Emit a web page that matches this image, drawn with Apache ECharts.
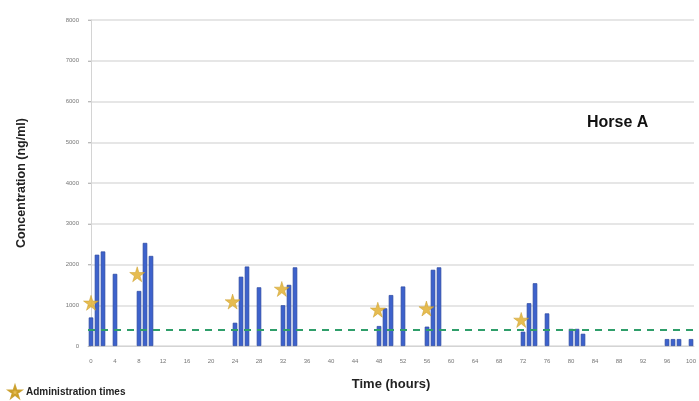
<!DOCTYPE html>
<html>
<head>
<meta charset="utf-8">
<script src="https://cdn.jsdelivr.net/npm/echarts@6/dist/echarts.min.js"></script>
<style>
  html, body { margin: 0; padding: 0; background: #fff; }
  #chart { width: 699px; height: 401px; }
</style>
</head>
<body>
<div id="chart"></div>
<script>
// sampling times (hours) and measured concentration (ng/ml)
var sampleHours = [0, 1, 2, 4, 8, 9, 10, 24, 25, 26, 28, 32, 33, 34, 48, 49, 50, 52, 56, 57, 58, 72, 73, 74, 76, 80, 81, 82, 96, 97, 98, 100];
var concValues = [700, 2240, 2320, 1770, 1350, 2530, 2210, 570, 1700, 1950, 1440, 1000, 1500, 1930, 490, 925, 1250, 1460, 475, 1870, 1930, 350, 1050, 1540, 800, 420, 420, 300, 170, 170, 170, 170];

// administration markers (stars)
var adminHours = [0, 7.7, 23.6, 31.8, 47.8, 55.9, 71.7];
var adminLevels = [1060, 1760, 1090, 1400, 890, 920, 640];

var thresholdValue = 400;
var hourCount = 101; // categories 0..100

var hourLabels = [];
for (var h = 0; h < hourCount; h++) hourLabels.push(String(h));

var barData = hourLabels.map(function () { return null; });
sampleHours.forEach(function (t, i) { barData[t] = concValues[i]; });

var starData = adminHours.map(function (t, i) { return [t, adminLevels[i]]; });

var starPath = 'path://M50,0 L61,35 L98,35 L68,57 L79,92 L50,70 L21,92 L32,57 L2,35 L39,35 Z';
var font = '"Liberation Sans", Arial, sans-serif';
var chart = echarts.init(document.getElementById('chart'));

chart.setOption({
  animation: false,
  legend: {
    data: [{ name: 'Administration times', icon: starPath }],
    left: 8,
    top: 385,
    padding: 0,
    itemWidth: 12,
    itemHeight: 12,
    itemGap: 4,
    textStyle: { fontSize: 10, fontWeight: 'bold', color: '#222', fontFamily: font }
  },
  grid: { left: 88, right: 1, top: 20, bottom: 55 },
  xAxis: [{
    type: 'category',
    data: hourLabels,
    boundaryGap: true,
    name: 'Time (hours)',
    nameLocation: 'middle',
    nameGap: 32,
    nameTextStyle: { fontSize: 13, fontWeight: 'bold', color: '#222', fontFamily: font },
    axisLine: { show: true, lineStyle: { color: '#d4d4d4' } },
    axisTick: { show: false },
    axisLabel: { interval: 3, color: '#777', fontSize: 6, fontFamily: font, margin: 12 },
    splitLine: { show: false }
  }, {
    type: 'value',
    min: -0.5,
    max: 100.5,
    show: false
  }],
  yAxis: {
    type: 'value',
    min: 0,
    max: 8000,
    interval: 1000,
    name: 'Concentration (ng/ml)',
    nameLocation: 'middle',
    nameGap: 60,
    nameRotate: 90,
    nameTextStyle: { fontSize: 12.5, fontWeight: 'bold', color: '#222', fontFamily: font },
    axisLine: { show: true, lineStyle: { color: '#d4d4d4' } },
    axisTick: { show: true, length: 3, lineStyle: { color: '#bbb' } },
    axisLabel: { color: '#777', fontSize: 6, fontFamily: font, margin: 9, formatter: function (v) { return String(v); } },
    splitLine: { lineStyle: { color: '#dedede', width: 1.5 } }
  },
  series: [{
    name: 'Concentration',
    type: 'bar',
    data: barData,
    barWidth: 4.5,
    itemStyle: { color: '#3d62cc', borderColor: '#2a469e', borderWidth: 0.7 },
    markLine: {
      silent: true,
      symbol: 'none',
      label: { show: false },
      lineStyle: { color: '#2f9e6a', type: [7, 6], width: 2.2 },
      data: [{ yAxis: thresholdValue }]
    }
  }, {
    name: 'Administration times',
    type: 'scatter',
    xAxisIndex: 1,
    data: starData,
    symbol: starPath,
    symbolSize: 15,
    itemStyle: { color: '#e3b53e', borderColor: '#c89a20', borderWidth: 0.5, opacity: 0.9 },
    z: 5
  }],
  graphic: [{
    type: 'text',
    left: 587,
    top: 115,
    style: { text: 'Horse A', font: 'bold 16px ' + font, fill: '#111' }
  }]
});
</script>
</body>
</html>
